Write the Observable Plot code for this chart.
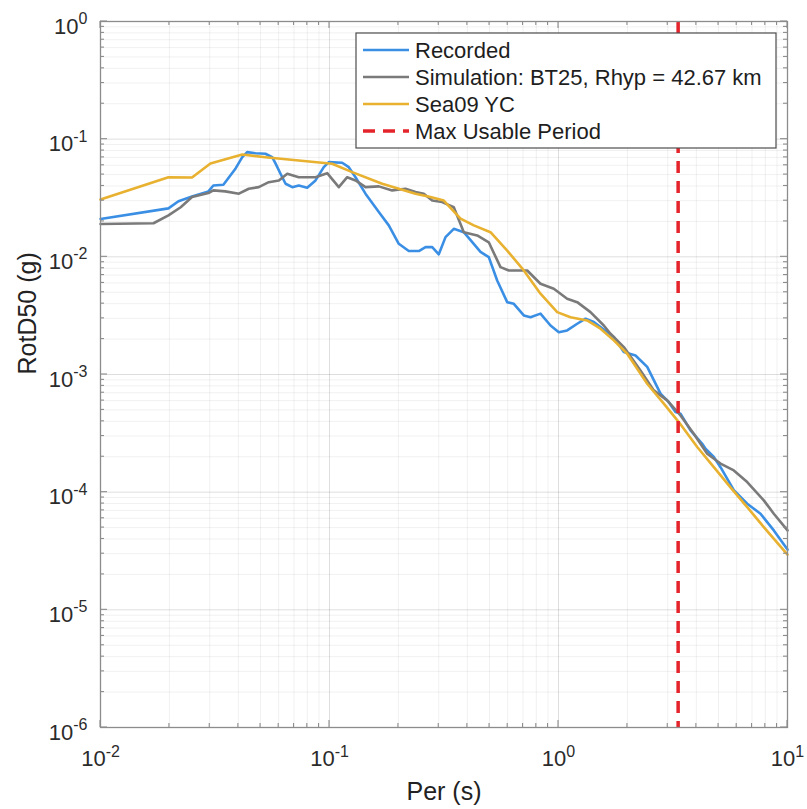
<!DOCTYPE html>
<html><head><meta charset="utf-8">
<script src="https://cdn.jsdelivr.net/npm/d3@7"></script>
<script src="https://cdn.jsdelivr.net/npm/@observablehq/plot@0.6"></script>
<style>
body{margin:0;background:#fff;}
#chart{position:relative;width:807px;height:809px;}
</style></head><body><div id="chart"></div>
<script>
// ---- data ----
const recordedPeriod = [0.01, 0.0198, 0.0219, 0.0251, 0.0296, 0.0311, 0.0344, 0.0389, 0.0416, 0.0437, 0.0475, 0.0525, 0.0562, 0.0581, 0.0611, 0.0643, 0.0688, 0.0734, 0.0799, 0.0869, 0.0944, 0.0993, 0.1136, 0.1214, 0.1299, 0.1436, 0.1642, 0.1815, 0.2007, 0.2219, 0.2455, 0.2626, 0.2809, 0.3001, 0.3211, 0.349, 0.3859, 0.4564, 0.4961, 0.5398, 0.597, 0.6381, 0.7055, 0.7546, 0.8343, 0.9229, 1.003, 1.091, 1.207, 1.312, 1.426, 1.526, 1.744, 1.929, 2.169, 2.44, 2.789, 3.032, 3.243, 3.41, 3.771, 4.242, 4.385, 4.767, 5.099, 5.828, 6.668, 7.622, 8.714, 10];
const recordedSa = [0.021, 0.0258, 0.0297, 0.0326, 0.036, 0.0404, 0.041, 0.0564, 0.0703, 0.0776, 0.076, 0.0752, 0.0703, 0.0622, 0.0508, 0.0418, 0.0391, 0.0404, 0.0387, 0.0446, 0.0578, 0.0638, 0.063, 0.0578, 0.0475, 0.0344, 0.024, 0.0185, 0.0129, 0.0112, 0.0112, 0.0121, 0.0121, 0.0105, 0.0147, 0.0173, 0.0162, 0.011, 0.00994, 0.0063, 0.00412, 0.00399, 0.00318, 0.00307, 0.00329, 0.00261, 0.00229, 0.00237, 0.0027, 0.00298, 0.00279, 0.00253, 0.00208, 0.00155, 0.00145, 0.00116, 0.000687, 0.000582, 0.00048, 0.000465, 0.000335, 0.000258, 0.000234, 0.000199, 0.000163, 0.000104, 0.0000798, 0.0000656, 0.0000473, 0.0000325];

const simPeriod = [0.01, 0.01704, 0.0198, 0.0224, 0.0251, 0.0296, 0.0311, 0.0351, 0.0402, 0.0444, 0.0491, 0.0543, 0.0601, 0.0654, 0.0734, 0.0869, 0.0977, 0.1098, 0.1195, 0.1299, 0.1436, 0.1642, 0.1878, 0.2147, 0.2374, 0.2581, 0.2809, 0.3105, 0.349, 0.3859, 0.4416, 0.4961, 0.558, 0.6067, 0.7302, 0.8343, 0.9539, 1.091, 1.207, 1.379, 1.577, 1.687, 1.929, 2.28, 2.607, 2.983, 3.41, 3.897, 4.46, 5.099, 5.828, 6.668, 7.879, 8.714, 10];
const simSa = [0.019, 0.0193, 0.0225, 0.0264, 0.0322, 0.0348, 0.0367, 0.036, 0.0344, 0.0379, 0.0391, 0.0431, 0.0446, 0.0508, 0.0475, 0.0475, 0.0514, 0.0391, 0.0475, 0.0446, 0.0391, 0.0397, 0.0367, 0.0379, 0.0355, 0.0344, 0.0301, 0.0292, 0.0264, 0.0162, 0.0152, 0.0133, 0.00818, 0.00766, 0.00766, 0.00591, 0.00536, 0.00441, 0.00412, 0.00339, 0.00261, 0.00222, 0.00171, 0.00108, 0.000733, 0.000603, 0.000449, 0.000314, 0.000212, 0.000175, 0.000153, 0.000122, 0.0000852, 0.0000656, 0.0000473];

const seaPeriod = [0.01, 0.0198, 0.0251, 0.0302, 0.0416, 0.0525, 0.0734, 0.1027, 0.1256, 0.1698, 0.2374, 0.2761, 0.3155, 0.3733, 0.4267, 0.5047, 0.597, 0.7055, 0.8343, 0.987, 1.128, 1.334, 1.526, 1.744, 1.995, 2.44, 2.883, 3.352, 4.034, 4.767, 5.637, 6.668, 7.879, 10];
const seaSa = [0.0307, 0.0475, 0.0473, 0.0622, 0.0741, 0.0703, 0.0659, 0.0618, 0.0525, 0.0418, 0.0344, 0.0322, 0.0301, 0.0211, 0.0185, 0.0162, 0.0113, 0.00766, 0.00486, 0.00339, 0.00307, 0.00288, 0.00245, 0.00195, 0.0015, 0.000835, 0.000565, 0.000394, 0.000242, 0.000163, 0.00011, 0.0000747, 0.0000505, 0.0000295];

const maxUsablePeriod = [3.33];

const seriesNames = ["Recorded", "Simulation: BT25, Rhyp = 42.67 km", "Sea09 YC", "Max Usable Period"];
const seriesColors = ["#3a8fe5", "#7a7a7a", "#e8b12f", "#e5232b"];

const xMajor = [0.01, 0.1, 1, 10];
const yMajor = [1e-6, 1e-5, 1e-4, 1e-3, 1e-2, 1e-1, 1];
const minorMult = [2, 3, 4, 5, 6, 7, 8, 9];
const xMinor = xMajor.slice(0, -1).flatMap(d => minorMult.map(k => k * d));
const yMinor = yMajor.slice(0, -1).flatMap(d => minorMult.map(k => k * d));

// ---- build table ----
const rows = [];
const add = (name, P, V) => P.forEach((t, i) => rows.push({series: name, T: t, Sa: V[i]}));
add(seriesNames[0], recordedPeriod, recordedSa);
add(seriesNames[1], simPeriod, simSa);
add(seriesNames[2], seaPeriod, seaSa);

const FONT = "'Liberation Sans', Arial, Helvetica, sans-serif";
const expFmt = d => String(Math.round(Math.log10(d)));

const chart = Plot.plot({
  width: 807, height: 809,
  marginLeft: 100, marginRight: 20, marginTop: 21, marginBottom: 82,
  style: {fontFamily: FONT, background: "#fff", overflow: "visible"},
  x: {type: "log", domain: [0.01, 10]},
  y: {type: "log", domain: [1e-6, 1]},
  color: {domain: seriesNames.slice(0, 3), range: seriesColors.slice(0, 3)},
  marks: [
    Plot.gridX(xMinor, {stroke: "#000", strokeOpacity: 0.06, strokeWidth: 1}),
    Plot.gridY(yMinor, {stroke: "#000", strokeOpacity: 0.06, strokeWidth: 1}),
    Plot.gridX(xMajor, {stroke: "#000", strokeOpacity: 0.13, strokeWidth: 1}),
    Plot.gridY(yMajor, {stroke: "#000", strokeOpacity: 0.13, strokeWidth: 1}),
    Plot.axisX(xMajor, {anchor: "bottom", tickSize: 0, tickPadding: 23, tickFormat: expFmt, fontSize: 22, fill: "#2b2b2b", label: null}),
    Plot.axisY(yMajor, {anchor: "left", tickSize: 0, tickPadding: 13, dy: 5, tickFormat: expFmt, fontSize: 22, fill: "#2b2b2b", label: null}),
    Plot.line(rows, {x: "T", y: "Sa", z: "series", stroke: "series", strokeWidth: 2.6, strokeLinejoin: "round", strokeLinecap: "round"}),
    Plot.ruleX(maxUsablePeriod, {stroke: seriesColors[3], strokeWidth: 3.5, strokeDasharray: "12,8"}),
    Plot.frame({stroke: "#8c8c8c", strokeWidth: 1.3}),
    Plot.text(["Per (s)"], {frameAnchor: "bottom", dy: 64, fontSize: 25, fill: "#222", lineAnchor: "middle"}),
    Plot.text(["RotD50 (g)"], {frameAnchor: "left", dx: -73, rotate: -90, fontSize: 25, fill: "#222", lineAnchor: "middle"})
  ]
});

const svg = d3.select(chart);
// superscript tick labels
svg.selectAll('g[aria-label="x-axis tick label"] text, g[aria-label="y-axis tick label"] text').each(function () {
  const el = d3.select(this);
  const e = el.text();
  el.text(null);
  el.append("tspan").text("10");
  el.append("tspan").attr("dy", "-0.6em").attr("font-size", "16px").text(e);
});

// inward ticks on all four sides (through Plot's scales)
const sx = chart.scale("x"), sy = chart.scale("y");
const xL = sx.apply(0.01), xR = sx.apply(10), yB = sy.apply(1e-6), yT = sy.apply(1);
const tg = svg.append("g").attr("stroke", "#8c8c8c").attr("stroke-width", 1.1);
[[xMajor, 7], [xMinor, 4]].forEach(([ticks, len]) => ticks.forEach(v => {
  const x = sx.apply(v);
  tg.append("line").attr("x1", x).attr("x2", x).attr("y1", yB).attr("y2", yB - len);
  tg.append("line").attr("x1", x).attr("x2", x).attr("y1", yT).attr("y2", yT + len);
}));
[[yMajor, 7], [yMinor, 4]].forEach(([ticks, len]) => ticks.forEach(v => {
  const y = sy.apply(v);
  tg.append("line").attr("y1", y).attr("y2", y).attr("x1", xL).attr("x2", xL + len);
  tg.append("line").attr("y1", y).attr("y2", y).attr("x1", xR).attr("x2", xR - len);
}));

// legend (MATLAB-style, northeast)
const lg = svg.append("g").attr("font-family", FONT).attr("text-anchor", "start");
const lx = 356, ly = 33, lw = 420, lh = 115, rowH = 27;
lg.append("rect").attr("x", lx).attr("y", ly).attr("width", lw).attr("height", lh)
  .attr("fill", "#fff").attr("stroke", "#4d4d4d").attr("stroke-width", 1.2);
seriesNames.forEach((name, i) => {
  const yy = ly + 17 + i * rowH;
  lg.append("line").attr("x1", lx + 7).attr("x2", lx + 53).attr("y1", yy).attr("y2", yy)
    .attr("stroke", seriesColors[i]).attr("stroke-width", i === 3 ? 3.5 : 2.6)
    .attr("stroke-dasharray", i === 3 ? "12,8" : null);
  lg.append("text").attr("x", lx + 59).attr("y", yy).attr("dy", "0.35em")
    .attr("text-anchor", "start")
    .attr("font-size", 22).attr("fill", "#1e1e1e").text(name);
});

document.getElementById("chart").appendChild(chart);
</script>
</body></html>
